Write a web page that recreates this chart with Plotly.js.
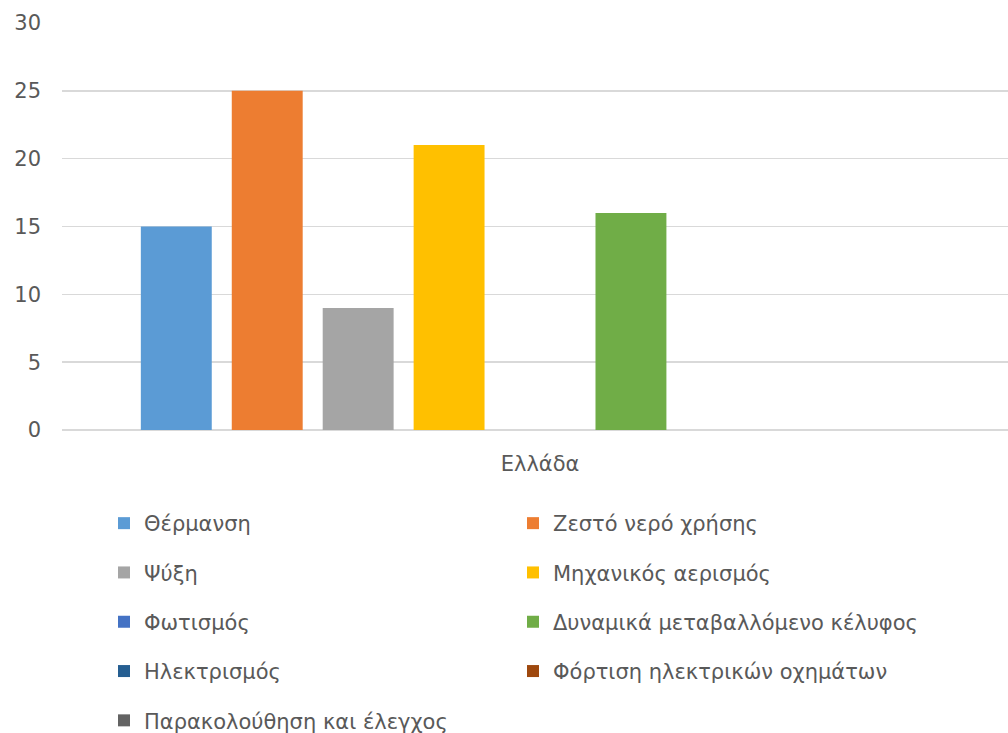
<!DOCTYPE html>
<html>
<head>
<meta charset="utf-8">
<script src="https://cdn.plot.ly/plotly-3.0.1.min.js"></script>
<style>html,body{margin:0;padding:0;background:#fff;}#chart{width:1008px;height:733px;}</style>
</head>
<body>
<div id="chart"></div>
<script>
const categories = ["Ελλάδα"];
const seriesNames = [
  "Θέρμανση", "Ζεστό νερό χρήσης", "Ψύξη", "Μηχανικός αερισμός",
  "Φωτισμός", "Δυναμικά μεταβαλλόμενο κέλυφος", "Ηλεκτρισμός",
  "Φόρτιση ηλεκτρικών οχημάτων", "Παρακολούθηση και έλεγχος"
];
const seriesValues = [15, 25, 9, 21, 0, 16, 0, 0, 0];
const seriesColors = ["#5B9BD5", "#ED7D31", "#A5A5A5", "#FFC000", "#4472C4", "#70AD47", "#255E91", "#9E480E", "#636363"];
const yTicks = [0, 5, 10, 15, 20, 25, 30];

const traces = seriesNames.map((name, i) => ({
  type: "bar",
  name: name,
  x: categories,
  y: [seriesValues[i]],
  marker: {color: seriesColors[i], line: {width: 0}},
  legend: (i % 2 === 0) ? "legend" : "legend2",
  legendgroup: name,
  hoverinfo: "name+y"
}));

const FONT = "DejaVu Sans, Verdana, sans-serif";
const legendFont = {family: FONT, size: 21, color: "#595959"};
const plotL = 62, plotW = 1008 - 62;

const layout = {
  width: 1008, height: 733,
  margin: {l: plotL, r: 0, t: 23, b: 303},
  paper_bgcolor: "#ffffff", plot_bgcolor: "#ffffff",
  barmode: "group",
  bargap: 0.144,
  bargroupgap: 0.22,
  font: {family: FONT, color: "#595959"},
  xaxis: {
    type: "category",
    range: [-0.5, 0.4895],
    showgrid: false, zeroline: false, showline: false,
    ticks: "", ticklabelstandoff: 19,
    tickfont: {size: 21, color: "#595959"},
    fixedrange: true
  },
  yaxis: {
    range: [0, 30], tickvals: yTicks, ticktext: yTicks.map(String),
    showgrid: true, gridcolor: "#d9d9d9", gridwidth: 1.5,
    zeroline: true, zerolinecolor: "#d9d9d9", zerolinewidth: 1.5,
    showline: false, ticks: "", ticklabelstandoff: 20,
    tickfont: {size: 21, color: "#595959"},
    fixedrange: true
  },
  legend: {
    xref: "paper", yref: "container",
    x: (104 - plotL) / plotW, y: 1 - 503 / 733, xanchor: "left", yanchor: "top",
    orientation: "v", traceorder: "grouped", tracegroupgap: 19,
    font: legendFont, bgcolor: "rgba(0,0,0,0)", borderwidth: 0
  },
  legend2: {
    xref: "paper", yref: "container",
    x: (513 - plotL) / plotW, y: 1 - 503 / 733, xanchor: "left", yanchor: "top",
    orientation: "v", traceorder: "grouped", tracegroupgap: 19,
    font: legendFont, bgcolor: "rgba(0,0,0,0)", borderwidth: 0
  },
  showlegend: true
};

Plotly.newPlot("chart", traces, layout, {displayModeBar: false, staticPlot: true});
</script>
</body>
</html>
